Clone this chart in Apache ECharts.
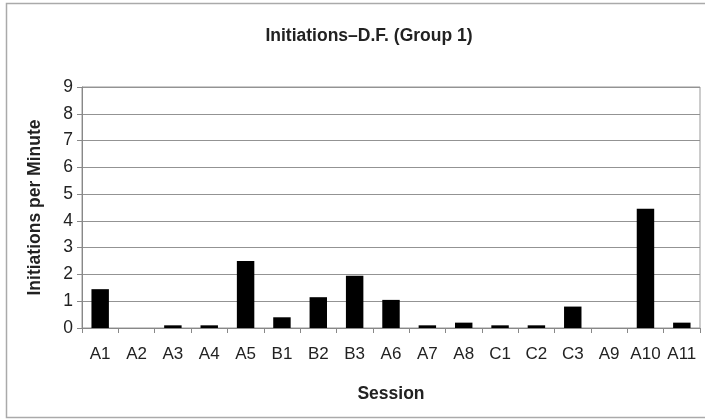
<!DOCTYPE html>
<html>
<head>
<meta charset="utf-8">
<script src="https://cdn.jsdelivr.net/npm/echarts@6/dist/echarts.min.js"></script>
<style>
  html, body { margin: 0; padding: 0; background: #fff; }
  #chart { width: 705px; height: 420px; }
</style>
</head>
<body>
<div id="chart"></div>
<script>
// 数据
const sessions = ['A1', 'A2', 'A3', 'A4', 'A5', 'B1', 'B2', 'B3', 'A6', 'A7', 'A8', 'C1', 'C2', 'C3', 'A9', 'A10', 'A11'];
const initiations = [1.45, 0, 0.1, 0.1, 2.5, 0.4, 1.15, 1.95, 1.05, 0.1, 0.2, 0.1, 0.1, 0.8, 0, 4.45, 0.2];
const yTicks = [0, 1, 2, 3, 4, 5, 6, 7, 8, 9];

const chart = echarts.init(document.getElementById('chart'));

const option = {
  animation: false,
  backgroundColor: '#fff',
  title: {
    text: 'Initiations\u2013D.F. (Group 1)',
    left: 364,
    textAlign: 'center',
    top: 22,
    textStyle: {
      fontFamily: 'Liberation Sans, Arial',
      fontSize: 17.5,
      fontWeight: 'bold',
      color: '#222'
    }
  },
  graphic: [{
    type: 'rect',
    shape: { x: 6.5, y: 3.5, width: 760, height: 414 },
    style: { fill: 'none', stroke: '#aaa', lineWidth: 1.5 },
    silent: true
  }],
  grid: {
    left: 82,
    right: 5,
    top: 87,
    bottom: 92,
    show: true,
    borderColor: '#999',
    borderWidth: 1
  },
  xAxis: {
    type: 'category',
    data: sessions,
    name: 'Session',
    nameLocation: 'middle',
    nameGap: 57,
    nameTextStyle: {
      fontFamily: 'Liberation Sans, Arial',
      fontSize: 17.5,
      fontWeight: 'bold',
      color: '#222'
    },
    axisLine: { lineStyle: { color: '#888' } },
    axisTick: { show: true, length: 5, lineStyle: { color: '#888' } },
    axisLabel: {
      interval: 0,
      margin: 18,
      fontFamily: 'Liberation Sans, Arial',
      fontSize: 17,
      color: '#222'
    }
  },
  yAxis: {
    type: 'value',
    min: 0,
    max: 9,
    interval: 1,
    name: 'Initiations per Minute',
    nameLocation: 'middle',
    nameGap: 38,
    nameTextStyle: {
      fontFamily: 'Liberation Sans, Arial',
      fontSize: 17.5,
      fontWeight: 'bold',
      color: '#222'
    },
    axisLine: { show: true, lineStyle: { color: '#888' } },
    axisTick: { show: true, length: 5, lineStyle: { color: '#888' } },
    axisLabel: {
      margin: 9,
      fontFamily: 'Liberation Sans, Arial',
      fontSize: 17.5,
      color: '#222',
      formatter: (v) => (yTicks.includes(v) ? String(v) : '')
    },
    splitLine: { lineStyle: { color: '#939393', width: 1.2 } }
  },
  series: [{
    type: 'bar',
    data: initiations,
    barWidth: '48%',
    itemStyle: { color: '#000' }
  }]
};

chart.setOption(option);
</script>
</body>
</html>
